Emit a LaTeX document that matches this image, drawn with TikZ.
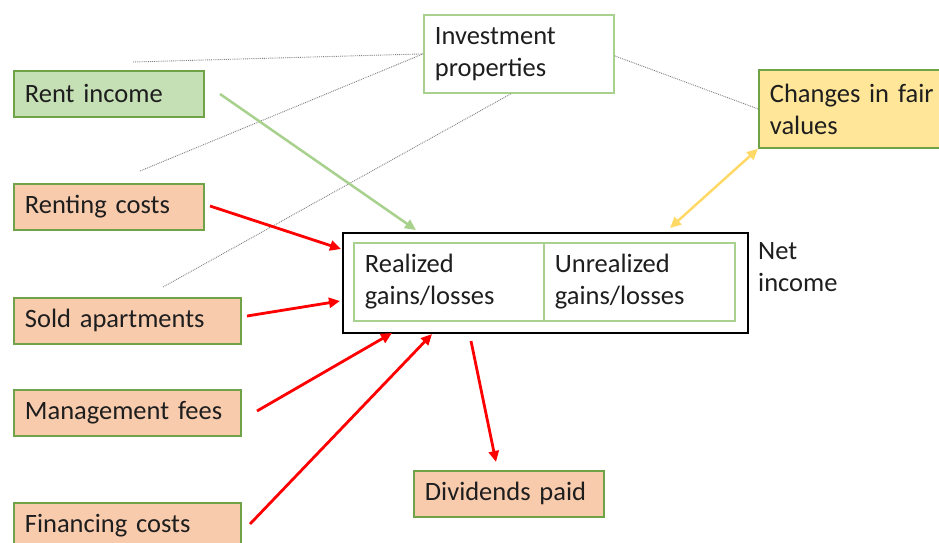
\documentclass[tikz,border=0pt]{standalone}
\usepackage{fontspec}
\setmainfont{Carlito}
\usetikzlibrary{arrows.meta}
\definecolor{fillgreen}{RGB}{197,224,180}
\definecolor{fillorange}{RGB}{248,203,173}
\definecolor{fillyellow}{RGB}{255,230,153}
\definecolor{bordergreen}{RGB}{112,163,72}
\definecolor{lightgreen}{RGB}{169,209,142}
\definecolor{arrowyellow}{RGB}{255,217,102}
\definecolor{txt}{RGB}{30,30,30}
\newcommand{\boxfont}{\fontsize{26.5}{32}\selectfont\spaceskip=0.22em plus 0.05em minus 0.02em\relax}
\tikzset{
  box/.style={draw=bordergreen, line width=1.8pt, anchor=north west, inner xsep=11pt, inner ysep=0pt,
    align=left, font=\boxfont, text=txt},
  plainbox/.style={box, draw=lightgreen},
  redarrow/.style={draw=red, line width=2.8pt, -{Triangle[length=11pt,width=10pt]}},
  greenarrow/.style={draw=lightgreen, line width=2.5pt, -{Triangle[length=11pt,width=10pt]}},
  yellowarrow/.style={draw=arrowyellow, line width=2.5pt, {Triangle[length=11pt,width=10pt]}-{Triangle[length=11pt,width=10pt]}},
  thinline/.style={draw=gray, line width=0.9pt, densely dotted},
  lbl/.style={font=\boxfont, text=txt, align=left, anchor=north west, inner sep=0pt}
}
\begin{document}
\begin{tikzpicture}[x=1pt,y=-1pt]
\clip (0,0) rectangle (939,542);
\fill[white] (0,0) rectangle (939,542);

% boxes
\node[box, fill=fillgreen, minimum width=190pt, minimum height=46pt, text width=168pt] (rent) at (13,70) {Rent income};
\node[box, fill=fillorange, minimum width=190pt, minimum height=46pt, text width=168pt] (renting) at (13,183) {Renting costs};
\node[box, fill=fillorange, minimum width=227pt, minimum height=46pt, text width=205pt] (sold) at (13,297) {Sold apartments};
\node[box, fill=fillorange, minimum width=227pt, minimum height=46pt, text width=205pt] (mgmt) at (13,389) {Management fees};
\node[box, fill=fillorange, minimum width=227pt, minimum height=46pt, text width=205pt] (fin) at (13,502) {Financing costs};
\node[box, fill=fillorange, minimum width=190pt, minimum height=46pt, text width=168pt] (div) at (413,470) {Dividends paid};
\node[plainbox, fill=white, minimum width=190pt, minimum height=78pt, text width=168pt] (inv) at (423,14) {Investment\\properties};
\node[box, fill=fillyellow, minimum width=200pt, minimum height=78pt, text width=178pt] (chg) at (758,69) {Changes in fair\\values};

% net income box
\node[draw=black, line width=2pt, anchor=north west, minimum width=405pt, minimum height=100pt, inner sep=0pt] (net) at (342,232) {};
\node[plainbox, minimum width=190pt, minimum height=78pt, text width=168pt] (real) at (353,242) {Realized\\gains/losses};
\node[plainbox, minimum width=191pt, minimum height=78pt, text width=169pt] (unreal) at (543,242) {Unrealized\\gains/losses};
\node[lbl] (netlbl) at (758,242) {Net\\income};

% thin dotted lines
\coordinate (d1) at (133,62);
\coordinate (d2) at (140,171);
\coordinate (d3) at (163,287);
\draw[thinline] (d1) -- (inv.west);
\draw[thinline] (d2) -- (inv.west);
\draw[thinline] (d3) -- ([xshift=-8pt]inv.south);
\draw[thinline] ([yshift=-2pt]inv.east) -- (chg.west);

% arrows
\coordinate (g0) at (220,94);
\coordinate (g1) at (416,230);
\draw[greenarrow] (g0) -- (g1);
\coordinate (y0) at (670,228);
\draw[yellowarrow] (y0) -- (chg.south west);

\coordinate (r1s) at (210,206); \coordinate (r1e) at (341,249);
\coordinate (r2s) at (247,316); \coordinate (r2e) at (340,301);
\coordinate (r3s) at (257,411); \coordinate (r3e) at (392,333);
\coordinate (r4s) at (250,524); \coordinate (r4e) at (432,334);
\coordinate (r5s) at (471,341); \coordinate (r5e) at (496,462);
\draw[redarrow] (r1s) -- (r1e);
\draw[redarrow] (r2s) -- (r2e);
\draw[redarrow] (r3s) -- (r3e);
\draw[redarrow] (r4s) -- (r4e);
\draw[redarrow] (r5s) -- (r5e);
\end{tikzpicture}
\end{document}
